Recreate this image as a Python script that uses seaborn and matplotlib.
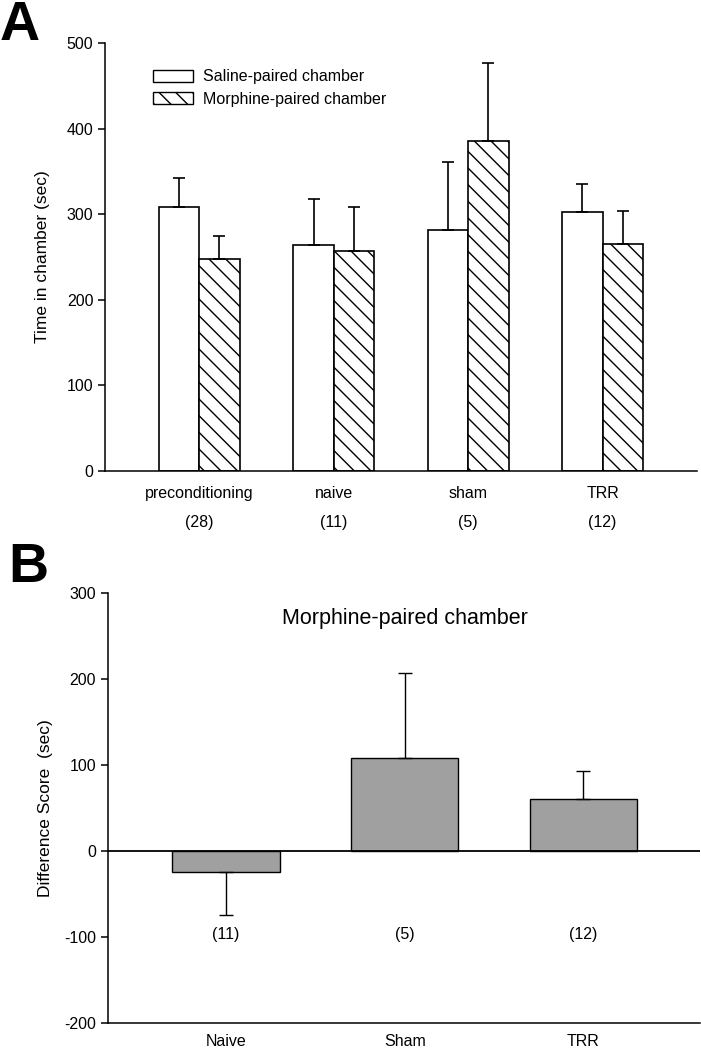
import matplotlib
matplotlib.use("Agg")
import matplotlib.pyplot as plt
from matplotlib.patches import Patch
import seaborn as sns
import numpy as np
import pandas as pd

# Panel A data
groups = ["preconditioning", "naive", "sham", "TRR"]
group_n = ["(28)", "(11)", "(5)", "(12)"]
chambers = ["Saline-paired chamber", "Morphine-paired chamber"]
saline_mean = [309, 264, 282, 303]
saline_sem = [33, 54, 79, 32]
morphine_mean = [248, 257, 386, 265]
morphine_sem = [26, 51, 91, 39]

# Panel B data
diff_groups = ["Naive", "Sham", "TRR"]
diff_n = ["(11)", "(5)", "(12)"]
diff_mean = [-24, 108, 60]
diff_sem = [51, 99, 33]

sns.set_theme(style="ticks")
plt.rcParams.update({
    "font.family": ["Liberation Sans", "DejaVu Sans"],
    "font.size": 11.5,
    "text.color": "black",
    "axes.labelcolor": "black",
    "axes.unicode_minus": False,
    "axes.linewidth": 1.1,
    "axes.edgecolor": "black",
    "xtick.color": "black",
    "ytick.color": "black",
    "ytick.major.size": 5,
    "ytick.major.width": 1.1,
    "hatch.linewidth": 1.0,
    "hatch.color": "black",
})

fig = plt.figure(figsize=(7.01, 10.48), dpi=100)
axA = fig.add_axes([0.150, 0.5505, 0.844, 0.4085])
axB = fig.add_axes([0.154, 0.024, 0.844, 0.410])

# ---- Panel A
dfA = pd.DataFrame({
    "group": groups * 2,
    "chamber": [chambers[0]] * 4 + [chambers[1]] * 4,
    "time": saline_mean + morphine_mean,
    "sem": saline_sem + morphine_sem,
})
sns.barplot(data=dfA, x="group", y="time", hue="chamber", order=groups,
            hue_order=chambers, palette=["white", "white"], saturation=1,
            width=0.6, gap=0, edgecolor="black", linewidth=1.2,
            errorbar=None, legend=False, ax=axA)
bars = axA.patches
for p in bars[4:]:
    p.set_hatch("\\\\")
xs = [p.get_x() + p.get_width() / 2 for p in bars]
axA.errorbar(xs, dfA["time"], yerr=[np.zeros(len(dfA)), dfA["sem"]],
             fmt="none", ecolor="black", elinewidth=1.2, capsize=4.5,
             capthick=1.2, zorder=3)
axA.set_ylim(0, 500)
axA.set_xlim(-0.7, 3.7)
axA.set_yticks(range(0, 501, 100))
axA.tick_params(axis="x", length=0, pad=11, labelsize=11.5)
axA.tick_params(axis="y", labelsize=11.5)
axA.set_xlabel("")
axA.set_ylabel("Time in chamber (sec)", fontsize=12.5, labelpad=12)
sns.despine(ax=axA)
for i, n in enumerate(group_n):
    axA.text(i, -60, n, ha="center", va="center", fontsize=11.5, clip_on=False)
handles = [Patch(facecolor="white", edgecolor="black", linewidth=1.0),
           Patch(facecolor="white", edgecolor="black", linewidth=1.0, hatch="\\\\")]
axA.legend(handles, chambers, loc="upper left", bbox_to_anchor=(0.068, 0.957),
           frameon=False, borderpad=0, handlelength=2.5, handleheight=0.8,
           handletextpad=0.6, labelspacing=0.45, fontsize=11.5)

# ---- Panel B
sns.barplot(x=diff_groups, y=diff_mean, color="#a0a0a0", saturation=1,
            width=0.6, edgecolor="black", linewidth=1.0, errorbar=None, ax=axB)
xb = [p.get_x() + p.get_width() / 2 for p in axB.patches]
lower = [s if m < 0 else 0 for m, s in zip(diff_mean, diff_sem)]
upper = [s if m >= 0 else 0 for m, s in zip(diff_mean, diff_sem)]
axB.errorbar(xb, diff_mean, yerr=[lower, upper], fmt="none", ecolor="black",
             elinewidth=1.0, capsize=5, capthick=1.0, zorder=3)
axB.axhline(0, color="black", lw=1.3, zorder=4)
axB.set_ylim(-200, 300)
axB.set_xlim(-0.66, 2.65)
axB.set_yticks(range(-200, 301, 100))
axB.tick_params(axis="x", length=0, pad=8, labelsize=11.5)
axB.tick_params(axis="y", labelsize=11.5)
axB.set_ylabel("Difference Score  (sec)", fontsize=12.5, labelpad=8)
sns.despine(ax=axB)
for i, n in enumerate(diff_n):
    axB.text(i, -97, n, ha="center", va="center", fontsize=11.5)
axB.text(1, 270, "Morphine-paired chamber", ha="center", va="center", fontsize=15.5)

# Panel letters
fig.text(0.0, 1.0, "A", fontsize=40, fontweight="bold", va="top", ha="left")
fig.text(0.012, 0.483, "B", fontsize=40, fontweight="bold", va="top", ha="left")

fig.savefig("out.png", dpi=100, facecolor="white")
